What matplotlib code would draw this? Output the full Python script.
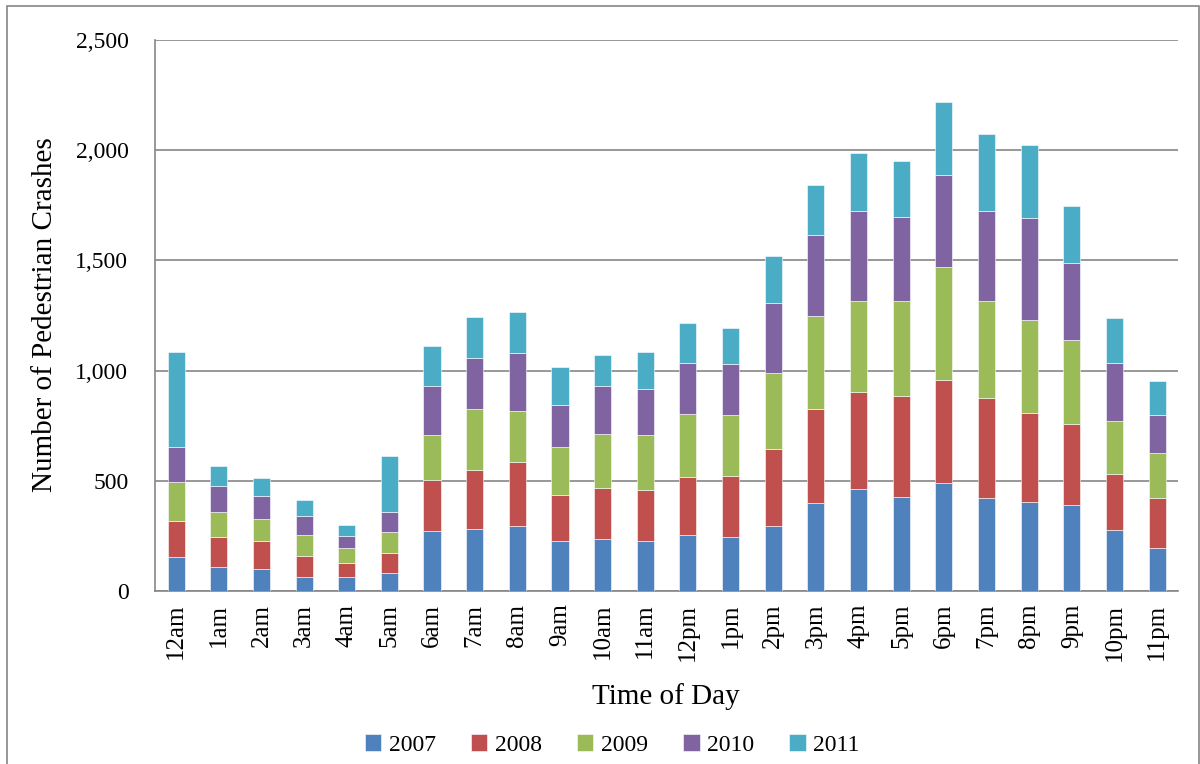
import matplotlib.pyplot as plt
import matplotlib.patches as mpatches
import numpy as np

plt.rcParams['font.family'] = ['Liberation Serif', 'DejaVu Serif']

hours = ['12am', '1am', '2am', '3am', '4am', '5am', '6am', '7am', '8am', '9am',
         '10am', '11am', '12pm', '1pm', '2pm', '3pm', '4pm', '5pm', '6pm', '7pm',
         '8pm', '9pm', '10pm', '11pm']

# crashes per year by hour
y2007 = [155, 108, 99, 62, 64, 83, 271, 282, 295, 226, 238, 227,
         256, 243, 297, 399, 464, 425, 491, 424, 405, 391, 277, 197]
y2008 = [164, 135, 129, 96, 65, 90, 234, 265, 290, 208, 229, 232,
         262, 280, 347, 427, 438, 461, 466, 451, 401, 366, 253, 226]
y2009 = [175, 115, 100, 94, 64, 93, 203, 279, 233, 218, 244, 249,
         287, 276, 344, 423, 415, 431, 514, 443, 423, 384, 240, 203]
y2010 = [158, 119, 103, 87, 56, 94, 224, 233, 261, 192, 221, 207,
         231, 231, 318, 368, 406, 379, 415, 407, 465, 348, 263, 172]
y2011 = [433, 91, 81, 76, 49, 251, 180, 185, 189, 173, 141, 171,
         178, 164, 215, 225, 265, 255, 335, 350, 329, 256, 208, 157]

years = ['2007', '2008', '2009', '2010', '2011']
series = [y2007, y2008, y2009, y2010, y2011]
colors = ['#4F81BD', '#C0504D', '#9BBB59', '#8064A2', '#4BACC6']

fig = plt.figure(figsize=(12, 7.64), dpi=100)
ax = fig.add_axes([0.129, 0.2264, 0.853, 0.7212])

x = np.arange(len(hours))
bottom = np.zeros(len(hours))
for name, vals, c in zip(years, series, colors):
    ax.bar(x, vals, width=0.4, bottom=bottom, color=c, label=name,
           edgecolor='white', linewidth=0.4, zorder=3)
    bottom += np.array(vals)

ax.set_xlim(-0.5, len(hours) - 0.5)
ax.set_ylim(0, 2500)
ax.set_yticks(np.arange(0, 2501, 500))
ax.set_yticklabels([f'{v:,}' for v in range(0, 2501, 500)], fontsize=17)
ax.set_xticks(x)
ax.set_xticklabels(hours, rotation=90, fontsize=18)
ax.tick_params(axis='both', length=0)
ax.tick_params(axis='y', pad=19)
ax.tick_params(axis='x', pad=9)

ax.grid(axis='y', color='#868686', linewidth=1.2, zorder=0)
for s in ['top', 'right']:
    ax.spines[s].set_visible(False)
for s in ['left', 'bottom']:
    ax.spines[s].set_color('#868686')
    ax.spines[s].set_linewidth(1.2)

fig.text(0.0375, 0.588, 'Number of Pedestrian Crashes', rotation=90,
         ha='center', va='center', fontsize=21)
fig.text(0.555, 0.088, 'Time of Day', ha='center', va='center', fontsize=21)

fig.legend(loc='center', bbox_to_anchor=(0.51, 0.025), ncol=5, frameon=False,
           fontsize=17, handlelength=0.7, handleheight=0.7, handletextpad=0.3,
           columnspacing=1.5)

fig.patches.append(mpatches.Rectangle((0.006, -0.02), 0.993, 1.012,
                                      transform=fig.transFigure, fill=False,
                                      edgecolor='#868686', linewidth=1.2))

fig.savefig('out.png')
